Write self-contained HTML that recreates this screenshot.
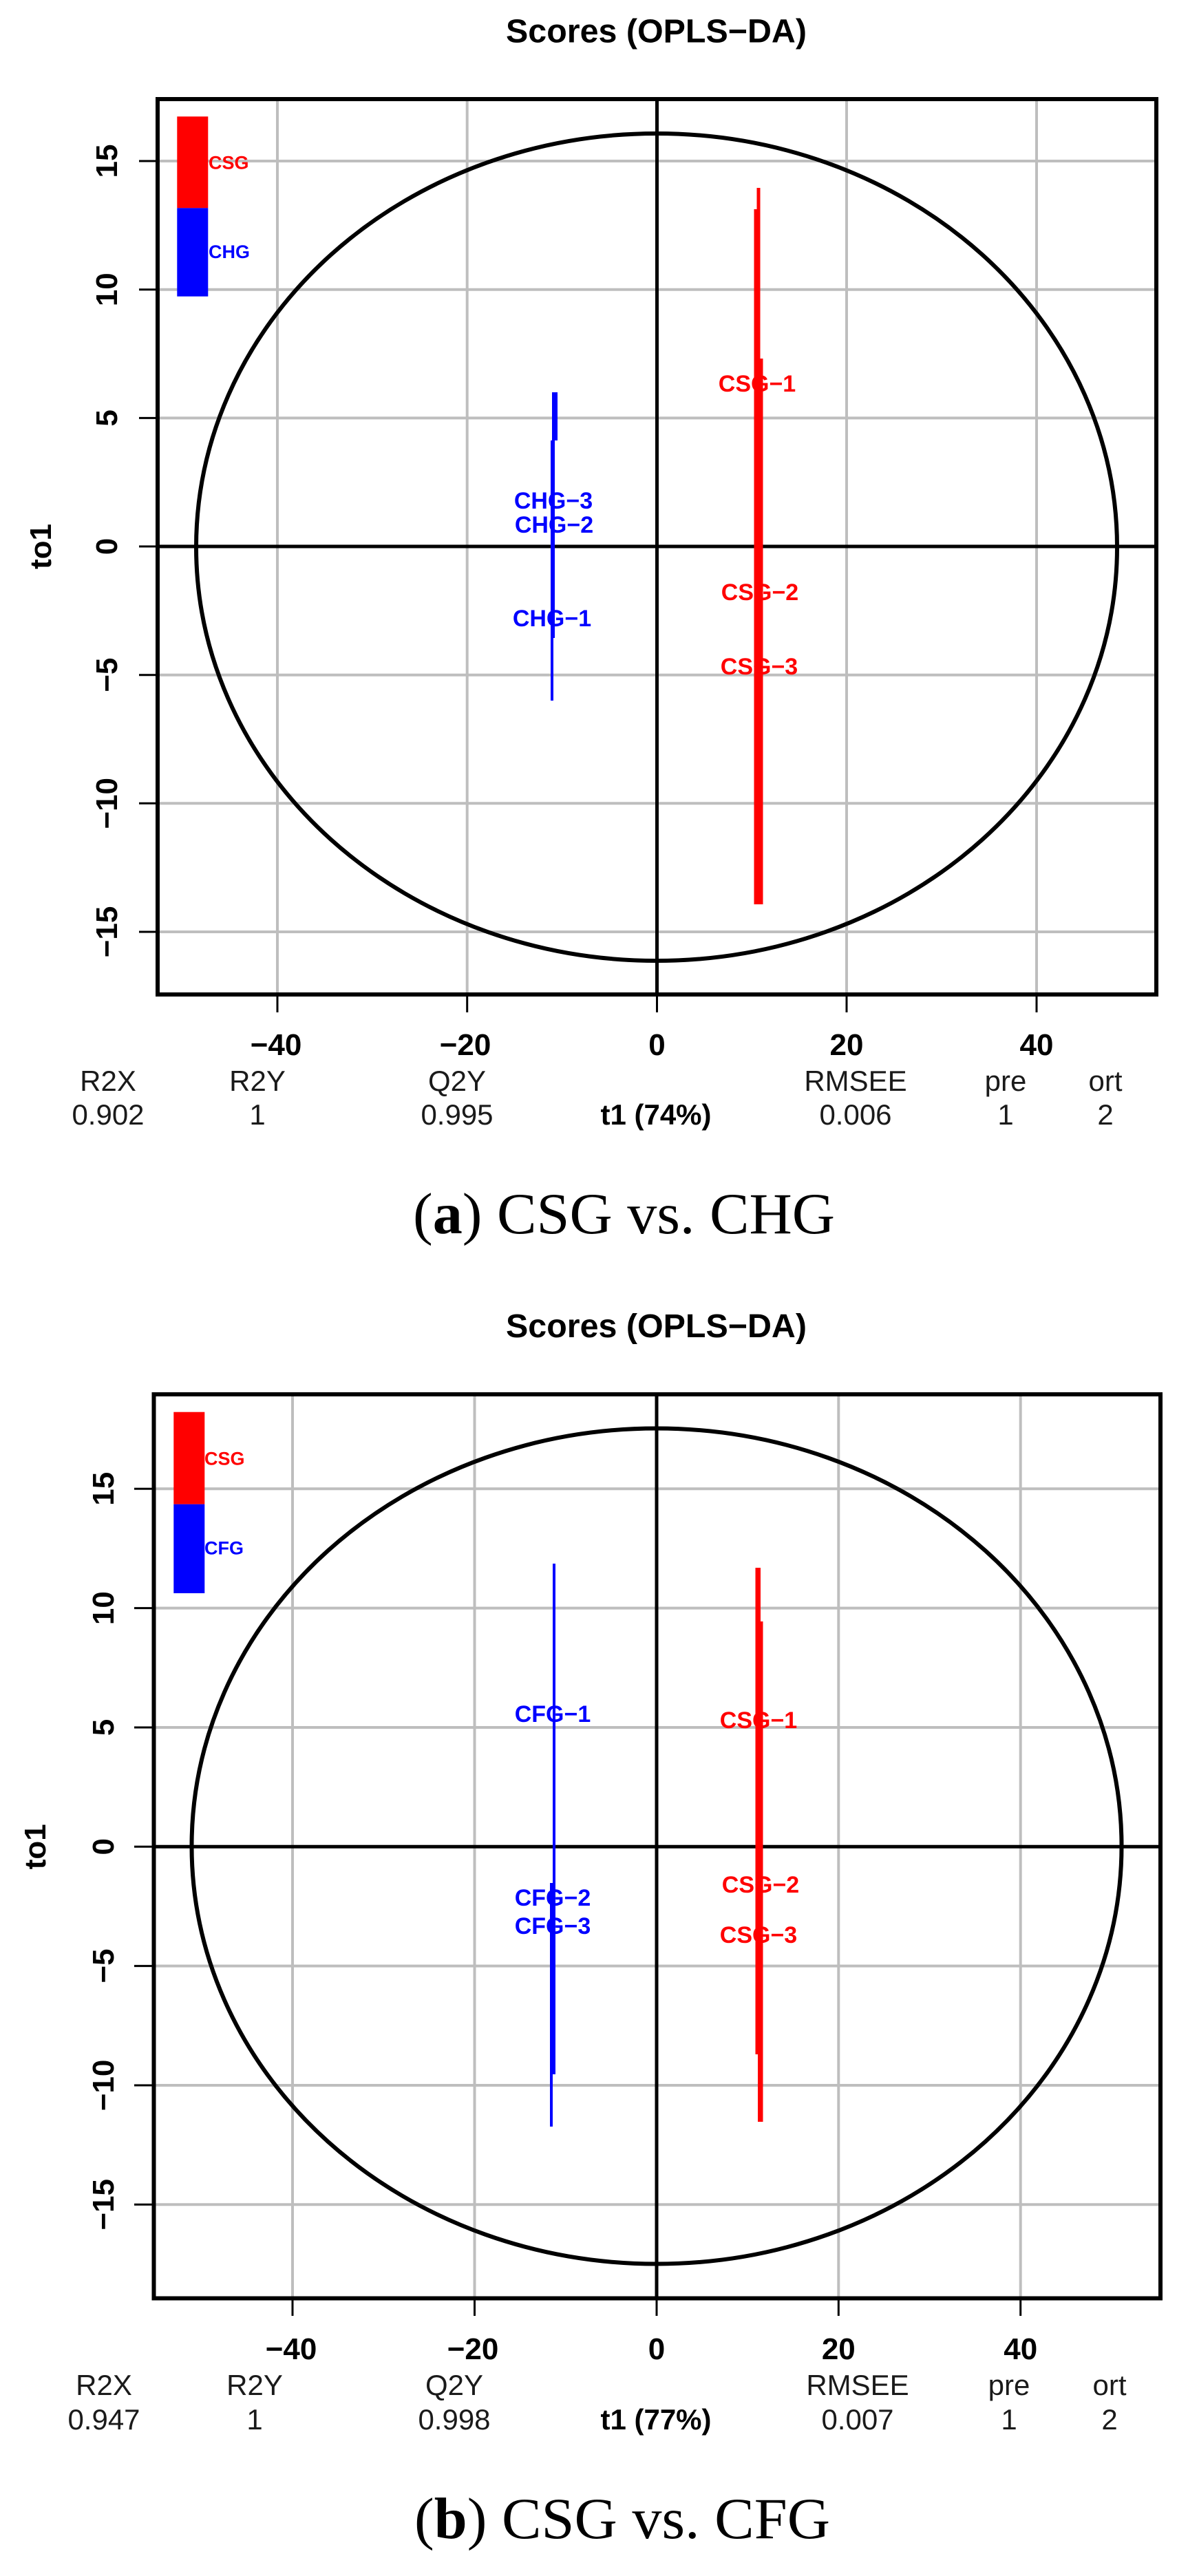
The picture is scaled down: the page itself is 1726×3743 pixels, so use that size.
<!DOCTYPE html>
<html><head><meta charset="utf-8"><style>
html,body{margin:0;padding:0;background:#fff}
svg{display:block}
</style></head><body>
<svg xmlns="http://www.w3.org/2000/svg" width="1726" height="3743" viewBox="0 0 1726 3743">
<rect width="1726" height="3743" fill="#fff"/>

<!-- ================= PANEL A ================= -->
<g>
<text x="953.5" y="61.7" font-family="Liberation Sans, Arial, sans-serif" font-weight="bold" font-size="48" text-anchor="middle" textLength="437" lengthAdjust="spacingAndGlyphs">Scores (OPLS−DA)</text>

<g stroke="#bebebe" stroke-width="4">
<line x1="403" y1="144" x2="403" y2="1445"/>
<line x1="678.7" y1="144" x2="678.7" y2="1445"/>
<line x1="1230" y1="144" x2="1230" y2="1445"/>
<line x1="1506" y1="144" x2="1506" y2="1445"/>
<line x1="229" y1="234" x2="1680" y2="234"/>
<line x1="229" y1="420.7" x2="1680" y2="420.7"/>
<line x1="229" y1="607.4" x2="1680" y2="607.4"/>
<line x1="229" y1="980.7" x2="1680" y2="980.7"/>
<line x1="229" y1="1167.3" x2="1680" y2="1167.3"/>
<line x1="229" y1="1354" x2="1680" y2="1354"/>
</g>
<g stroke="#000" stroke-width="5">
<line x1="954.5" y1="144" x2="954.5" y2="1445"/>
<line x1="229" y1="794" x2="1680" y2="794"/>
</g>
<ellipse cx="954" cy="795" rx="669" ry="601" fill="none" stroke="#000" stroke-width="6"/>

<g stroke="#0000ff" stroke-linecap="butt">
<line x1="804" y1="570" x2="804" y2="927" stroke-width="4"/>
<line x1="807" y1="570" x2="807" y2="640" stroke-width="6"/>
<line x1="802" y1="640" x2="802" y2="1018" stroke-width="4"/>
</g>
<g stroke="#ff0000" stroke-linecap="butt">
<line x1="1102" y1="273" x2="1102" y2="1314" stroke-width="5"/>
<line x1="1098" y1="304" x2="1098" y2="1314" stroke-width="5"/>
<line x1="1106" y1="521" x2="1106" y2="1314" stroke-width="5"/>
</g>

<g font-family="Liberation Sans, Arial, sans-serif" font-weight="bold" font-size="34" text-anchor="middle">
<text x="804" y="739" fill="#0000ff">CHG−3</text>
<text x="805" y="774" fill="#0000ff">CHG−2</text>
<text x="802" y="910" fill="#0000ff">CHG−1</text>
<text x="1100" y="569" fill="#ff0000">CSG−1</text>
<text x="1104" y="872" fill="#ff0000">CSG−2</text>
<text x="1103" y="980" fill="#ff0000">CSG−3</text>
</g>

<rect x="257.3" y="169.3" width="45" height="133" fill="#ff0000"/>
<rect x="257.3" y="302.3" width="45" height="128.4" fill="#0000ff"/>
<g font-family="Liberation Sans, Arial, sans-serif" font-weight="bold" font-size="27">
<text x="303" y="245.7" fill="#ff0000">CSG</text>
<text x="303" y="375" fill="#0000ff">CHG</text>
</g>

<rect x="229" y="144" width="1451" height="1301" fill="none" stroke="#000" stroke-width="6"/>

<g stroke="#000" stroke-width="3">
<line x1="202" y1="234" x2="229" y2="234"/>
<line x1="202" y1="420.7" x2="229" y2="420.7"/>
<line x1="202" y1="607.4" x2="229" y2="607.4"/>
<line x1="202" y1="794" x2="229" y2="794"/>
<line x1="202" y1="980.7" x2="229" y2="980.7"/>
<line x1="202" y1="1167.3" x2="229" y2="1167.3"/>
<line x1="202" y1="1354" x2="229" y2="1354"/>
<line x1="403" y1="1445" x2="403" y2="1471"/>
<line x1="678.7" y1="1445" x2="678.7" y2="1471"/>
<line x1="954.5" y1="1445" x2="954.5" y2="1471"/>
<line x1="1230" y1="1445" x2="1230" y2="1471"/>
<line x1="1506" y1="1445" x2="1506" y2="1471"/>
</g>

<g font-family="Liberation Sans, Arial, sans-serif" font-weight="bold" font-size="44" text-anchor="middle">
<text transform="translate(170,234) rotate(-90)">15</text>
<text transform="translate(170,420.7) rotate(-90)">10</text>
<text transform="translate(170,607.4) rotate(-90)">5</text>
<text transform="translate(170,794) rotate(-90)">0</text>
<text transform="translate(170,980.7) rotate(-90)">−5</text>
<text transform="translate(170,1167.3) rotate(-90)">−10</text>
<text transform="translate(170,1354) rotate(-90)">−15</text>
<text x="401" y="1533">−40</text>
<text x="676" y="1533">−20</text>
<text x="954.5" y="1533">0</text>
<text x="1230" y="1533">20</text>
<text x="1506" y="1533">40</text>
<text transform="translate(74,794) rotate(-90)">to1</text>
</g>

<g font-family="Liberation Sans, Arial, sans-serif" font-size="42" text-anchor="middle" fill="#1a1a1a">
<text x="157" y="1585">R2X</text>
<text x="374" y="1585">R2Y</text>
<text x="664" y="1585">Q2Y</text>
<text x="1243" y="1585">RMSEE</text>
<text x="1461" y="1585">pre</text>
<text x="1606" y="1585">ort</text>
<text x="157" y="1634">0.902</text>
<text x="374" y="1634">1</text>
<text x="664" y="1634">0.995</text>
<text x="953" y="1634" font-weight="bold" fill="#000">t1 (74%)</text>
<text x="1243" y="1634">0.006</text>
<text x="1461" y="1634">1</text>
<text x="1606" y="1634">2</text>
</g>

<text x="600" y="1792" font-family="Liberation Serif, Times New Roman, serif" font-size="85" textLength="613" lengthAdjust="spacingAndGlyphs">(<tspan font-weight="bold">a</tspan>) CSG vs. CHG</text>
</g>

<!-- ================= PANEL B ================= -->
<g>
<text x="953.5" y="1943" font-family="Liberation Sans, Arial, sans-serif" font-weight="bold" font-size="48" text-anchor="middle" textLength="437" lengthAdjust="spacingAndGlyphs">Scores (OPLS−DA)</text>

<g stroke="#bebebe" stroke-width="4">
<line x1="425" y1="2026" x2="425" y2="3339.5"/>
<line x1="689.5" y1="2026" x2="689.5" y2="3339.5"/>
<line x1="1218.3" y1="2026" x2="1218.3" y2="3339.5"/>
<line x1="1482.7" y1="2026" x2="1482.7" y2="3339.5"/>
<line x1="223.5" y1="2163.3" x2="1686" y2="2163.3"/>
<line x1="223.5" y1="2336.6" x2="1686" y2="2336.6"/>
<line x1="223.5" y1="2510" x2="1686" y2="2510"/>
<line x1="223.5" y1="2856.6" x2="1686" y2="2856.6"/>
<line x1="223.5" y1="3030" x2="1686" y2="3030"/>
<line x1="223.5" y1="3203.3" x2="1686" y2="3203.3"/>
</g>
<g stroke="#000" stroke-width="5">
<line x1="954" y1="2026" x2="954" y2="3339.5"/>
<line x1="223.5" y1="2683.3" x2="1686" y2="2683.3"/>
</g>
<ellipse cx="954" cy="2682.5" rx="675.5" ry="607" fill="none" stroke="#000" stroke-width="6"/>

<g stroke="#0000ff" stroke-linecap="butt">
<line x1="805" y1="2272" x2="805" y2="3014" stroke-width="4"/>
<line x1="801" y1="2736" x2="801" y2="3090" stroke-width="4"/>
<line x1="803" y1="2736" x2="803" y2="3014" stroke-width="3"/>
</g>
<g stroke="#ff0000" stroke-linecap="butt">
<line x1="1100" y1="2278" x2="1100" y2="2985" stroke-width="5"/>
<line x1="1106" y1="2356" x2="1106" y2="3083" stroke-width="5"/>
<line x1="1103" y1="2278" x2="1103" y2="3083" stroke-width="4"/>
</g>

<g font-family="Liberation Sans, Arial, sans-serif" font-weight="bold" font-size="34" text-anchor="middle">
<text x="803" y="2502" fill="#0000ff">CFG−1</text>
<text x="803" y="2769" fill="#0000ff">CFG−2</text>
<text x="803" y="2810" fill="#0000ff">CFG−3</text>
<text x="1102" y="2511" fill="#ff0000">CSG−1</text>
<text x="1105" y="2750" fill="#ff0000">CSG−2</text>
<text x="1102" y="2823" fill="#ff0000">CSG−3</text>
</g>

<rect x="252.3" y="2051.7" width="45" height="134" fill="#ff0000"/>
<rect x="252.3" y="2185.7" width="45" height="129.3" fill="#0000ff"/>
<g font-family="Liberation Sans, Arial, sans-serif" font-weight="bold" font-size="27">
<text x="297" y="2128.7" fill="#ff0000">CSG</text>
<text x="297" y="2258.7" fill="#0000ff">CFG</text>
</g>

<rect x="223.5" y="2026" width="1462.5" height="1313.5" fill="none" stroke="#000" stroke-width="6"/>

<g stroke="#000" stroke-width="3">
<line x1="195" y1="2163.3" x2="223.5" y2="2163.3"/>
<line x1="195" y1="2336.6" x2="223.5" y2="2336.6"/>
<line x1="195" y1="2510" x2="223.5" y2="2510"/>
<line x1="195" y1="2683.3" x2="223.5" y2="2683.3"/>
<line x1="195" y1="2856.6" x2="223.5" y2="2856.6"/>
<line x1="195" y1="3030" x2="223.5" y2="3030"/>
<line x1="195" y1="3203.3" x2="223.5" y2="3203.3"/>
<line x1="425" y1="3339.5" x2="425" y2="3365"/>
<line x1="689.5" y1="3339.5" x2="689.5" y2="3365"/>
<line x1="954" y1="3339.5" x2="954" y2="3365"/>
<line x1="1218.3" y1="3339.5" x2="1218.3" y2="3365"/>
<line x1="1482.7" y1="3339.5" x2="1482.7" y2="3365"/>
</g>

<g font-family="Liberation Sans, Arial, sans-serif" font-weight="bold" font-size="44" text-anchor="middle">
<text transform="translate(165,2163.3) rotate(-90)">15</text>
<text transform="translate(165,2336.6) rotate(-90)">10</text>
<text transform="translate(165,2510) rotate(-90)">5</text>
<text transform="translate(165,2683.3) rotate(-90)">0</text>
<text transform="translate(165,2856.6) rotate(-90)">−5</text>
<text transform="translate(165,3030) rotate(-90)">−10</text>
<text transform="translate(165,3203.3) rotate(-90)">−15</text>
<text x="423" y="3428">−40</text>
<text x="687" y="3428">−20</text>
<text x="954" y="3428">0</text>
<text x="1218.3" y="3428">20</text>
<text x="1482.7" y="3428">40</text>
<text transform="translate(66,2683.3) rotate(-90)">to1</text>
</g>

<g font-family="Liberation Sans, Arial, sans-serif" font-size="42" text-anchor="middle" fill="#1a1a1a">
<text x="151" y="3480">R2X</text>
<text x="370" y="3480">R2Y</text>
<text x="660" y="3480">Q2Y</text>
<text x="1246" y="3480">RMSEE</text>
<text x="1466" y="3480">pre</text>
<text x="1612" y="3480">ort</text>
<text x="151" y="3530">0.947</text>
<text x="370" y="3530">1</text>
<text x="660" y="3530">0.998</text>
<text x="953" y="3530" font-weight="bold" fill="#000">t1 (77%)</text>
<text x="1246" y="3530">0.007</text>
<text x="1466" y="3530">1</text>
<text x="1612" y="3530">2</text>
</g>

<text x="602" y="3688" font-family="Liberation Serif, Times New Roman, serif" font-size="85" textLength="604" lengthAdjust="spacingAndGlyphs">(<tspan font-weight="bold">b</tspan>) CSG vs. CFG</text>
</g>
</svg>
</body></html>
